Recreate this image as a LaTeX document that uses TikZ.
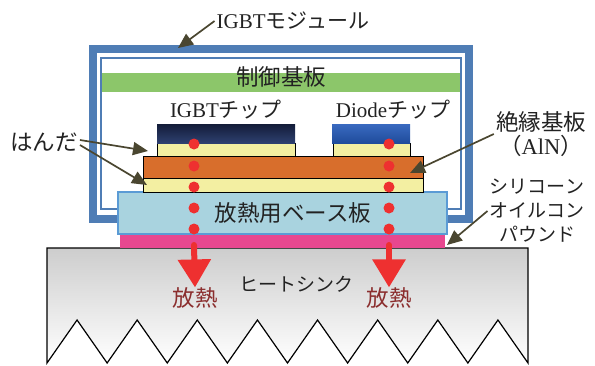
\documentclass[tikz,border=0pt]{standalone}
\usepackage{fontspec}
\setmainfont{Liberation Serif}
\newfontfamily\jpfont{Noto Sans CJK JP}
\usetikzlibrary{arrows.meta}
\newcommand{\jtxt}[1]{{\jpfont #1}}
\definecolor{framebl}{HTML}{4F7DB5}
\definecolor{ctrlgreen}{HTML}{8CC66A}
\definecolor{chipnavy}{HTML}{131C38}
\definecolor{chipnavyb}{HTML}{2E4070}
\definecolor{diodebl}{HTML}{3A6AC0}
\definecolor{diodeblb}{HTML}{1F4C9C}
\definecolor{solder}{HTML}{F3EFA2}
\definecolor{dbcorange}{HTML}{D86E2C}
\definecolor{basebl}{HTML}{A9D3DF}
\definecolor{baseedge}{HTML}{5B9BD5}
\definecolor{silpink}{HTML}{E8478F}
\definecolor{sinkgray}{HTML}{CDCDCD}
\definecolor{heatred}{HTML}{EE3030}
\definecolor{heattxt}{HTML}{8B2E2E}
\definecolor{calloutc}{HTML}{4A4630}
\definecolor{txt}{HTML}{222222}
\tikzset{layer/.style={rectangle,draw=black,line width=0.8pt,inner sep=0pt,outer sep=0pt,anchor=north west},
  lbl/.style={inner sep=2pt,text=txt,align=center,font=\fontsize{19}{24}\selectfont},
  midlbl/.style={lbl,font=\fontsize{21}{24}\selectfont},
  biglbl/.style={lbl,font=\fontsize{22.5}{24}\selectfont},
  callout/.style={draw=calloutc,line width=1.7pt,-{Triangle[width=13pt,length=15pt]}},
  heat/.style={draw=heatred,line width=6pt,line cap=round,-{Triangle[width=32pt,length=28pt]}},
  dot/.style={circle,fill=heatred,inner sep=0pt,minimum size=11pt}}
\begin{document}
\begin{tikzpicture}[x=1pt,y=-1pt]
\useasboundingbox (0,0) rectangle (595,365);
% module case
\draw[framebl,line width=8pt] (93,49) rectangle (468.5,218.5);
\draw[framebl,line width=2.2pt] (101,58) rectangle (461,209);
\node[layer,draw=none,fill=ctrlgreen,minimum width=358pt,minimum height=19pt] (ctrl) at (102,73) {};
% heat sink with fins
\draw[line width=1.2pt,top color=sinkgray,bottom color=white] (47,248) -- (528,248) -- (528,363)
  \foreach \i in {7,...,0} { -- ({47+60.125*\i+30.06},320) -- ({47+60.125*\i},363) } -- cycle;
% stack
\node[layer,draw=none,fill=silpink,minimum width=325pt,minimum height=14pt] (sil) at (120,234) {};
\node[layer,draw=baseedge,fill=basebl,line width=1.2pt,minimum width=329pt,minimum height=42pt] (base) at (118,192) {};
\node[layer,fill=solder,minimum width=280pt,minimum height=14pt] (sd2) at (143,178) {};
\node[layer,fill=dbcorange,minimum width=280pt,minimum height=22pt] (dbc) at (143,156) {};
\node[layer,fill=solder,minimum width=138pt,minimum height=13pt] (sd1) at (157,143) {};
\node[layer,fill=solder,minimum width=77pt,minimum height=13pt] (sd3) at (333,143) {};
\node[layer,draw=none,top color=chipnavy,bottom color=chipnavyb,minimum width=138pt,minimum height=19pt] (igbt) at (157,124) {};
\node[layer,draw=none,top color=diodebl,bottom color=diodeblb,minimum width=78pt,minimum height=19pt] (diode) at (332,124) {};
% heat path
\foreach \y [count=\k] in {144,166,187,208,229} {
  \node[dot] (p\k) at (194,\y) {};
  \node[dot] (q\k) at (389,\y) {};
}
\coordinate (s1) at (194,245);
\coordinate (s2) at (389,245);
\node[biglbl,text=heattxt,inner sep=0pt] (h1) at (195,298) {\jtxt{放熱}};
\node[biglbl,text=heattxt,inner sep=0pt] (h2) at (389,298) {\jtxt{放熱}};
\draw[heat] (s1) -- (h1.north);
\draw[heat] (s2) -- (h2.north);
% labels
\node[midlbl] (mod) at (293,21) {IGBT\jtxt{モジュール}};
\node[biglbl] (ctrltxt) at (281,77) {\jtxt{制御基板}};
\node[midlbl] (igbttxt) at (226,110) {IGBT\jtxt{チップ}};
\node[midlbl] (diodetxt) at (393,110) {Diode\jtxt{チップ}};
\node[biglbl] (hd) at (44,142) {\jtxt{はんだ}};
\node[biglbl] (dbctxt) at (541,134) {\jtxt{絶縁基板}\\\jtxt{（}AlN\jtxt{）}};
\node[lbl] (siltxt) at (537,211) {\jtxt{シリコーン}\\\jtxt{オイルコン}\\\jtxt{パウンド}};
\node[biglbl] (basetxt) at (293,213) {\jtxt{放熱用ベース板}};
\node[lbl] (sinktxt) at (296,284) {\jtxt{ヒートシンク}};
% callouts
\coordinate (t1) at (178,48);
\coordinate (t2) at (148,151);
\coordinate (t3) at (147,185);
\coordinate (t4) at (410,173);
\coordinate (t5) at (447,245);
\draw[callout] (mod.west) -- (t1);
\draw[callout] ([yshift=2pt]hd.east) -- (t2);
\draw[callout] ([yshift=-3pt]hd.east) -- (t3);
\draw[callout] (dbctxt.west) -- (t4);
\draw[callout] (siltxt.west) -- (t5);
\end{tikzpicture}
\end{document}
